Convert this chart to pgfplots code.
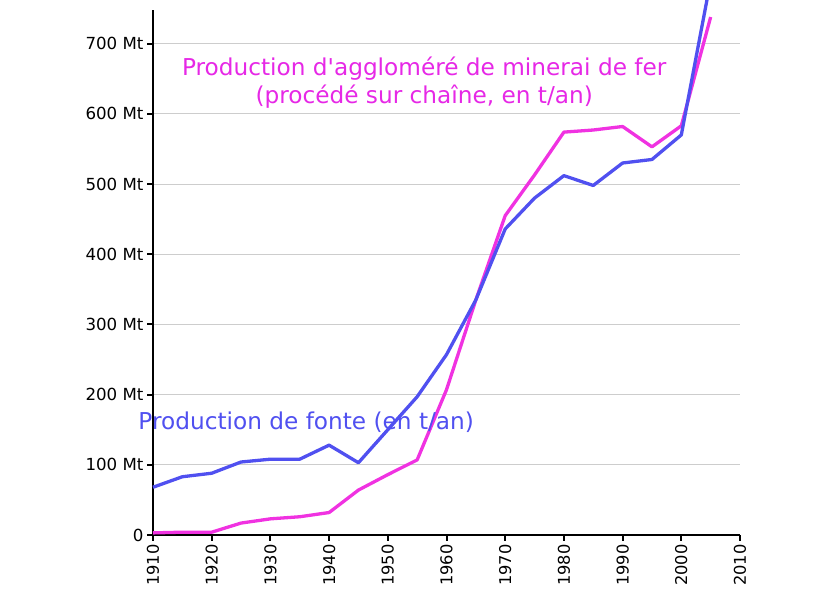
\documentclass[border=0pt]{standalone}
\usepackage{pgfplots}
\pgfplotsset{compat=1.18}
\usepackage{fontspec}
\setmainfont{DejaVu Sans}
\definecolor{blueL}{RGB}{80,80,240}
\definecolor{pinkL}{RGB}{240,50,225}
\definecolor{pinkT}{RGB}{230,40,230}
\definecolor{gridc}{RGB}{205,205,205}
\begin{document}
\begin{tikzpicture}[x=1bp,y=1bp]
\useasboundingbox (0,0) rectangle (830,600);
\begin{axis}[
  at={(153bp,65bp)}, anchor=south west,
  scale only axis, width=587bp, height=525bp,
  xmin=1910, xmax=2010, ymin=0, ymax=748,
  axis lines=left, axis line style={-, line width=2.6bp, black},
  xtick={1910,1920,...,2010},
  ytick={0,100,...,700},
  yticklabels={0,100 Mt,200 Mt,300 Mt,400 Mt,500 Mt,600 Mt,700 Mt},
  /pgf/number format/assume math mode=true,
  xticklabel style={rotate=90, anchor=east, font=\fontsize{16.3}{19}\selectfont, /pgf/number format/1000 sep={}},
  yticklabel style={font=\fontsize{16.7}{19}\selectfont},
  tick align=outside, major tick length=6bp,
  tick style={line width=2bp, black},
  ymajorgrids, grid style={gridc, line width=1bp},
  clip=false,
  every axis plot/.append style={line width=3.3bp, line join=round},
]
\addplot[pinkL, no marks] coordinates {
(1910,3) (1915,4) (1920,4) (1925,17) (1930,23) (1935,26) (1940,32) (1945,64)
(1950,86) (1955,107) (1960,207) (1965,335) (1970,455) (1975,513) (1980,574)
(1985,577) (1990,582) (1995,553) (2000,583) (2005,738)};
\addplot[blueL, no marks] coordinates {
(1910,68) (1915,83) (1920,88) (1925,104) (1930,108) (1935,108) (1940,128) (1945,103)
(1950,150) (1955,197) (1960,257) (1965,335) (1970,436) (1975,480) (1980,512)
(1985,498) (1990,530) (1995,535) (2000,570) (2005,790)};
\node[pinkT, align=center, font=\fontsize{23.3}{28}\selectfont] at (axis cs:1956.2,644) {Production d\textquotesingle aggloméré de minerai de fer\\(procédé sur chaîne, en t/an)};
\node[blueL, font=\fontsize{23.3}{28}\selectfont] at (axis cs:1936.1,161) {Production de fonte (en t/an)};
\end{axis}
\end{tikzpicture}
\end{document}
